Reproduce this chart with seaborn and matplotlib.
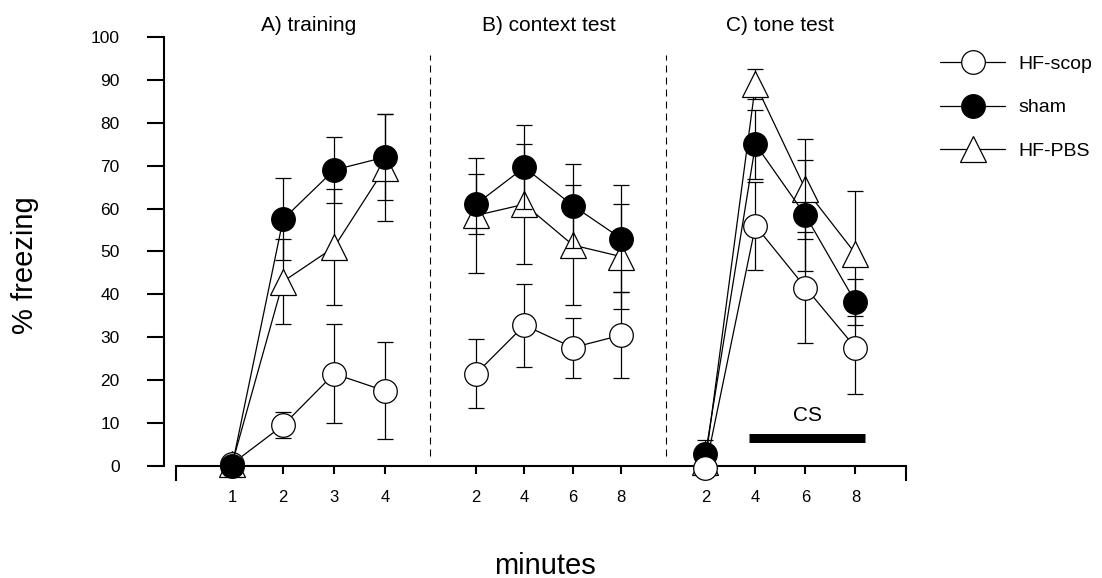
import pandas as pd
import seaborn as sns
import matplotlib
matplotlib.use("Agg")
import matplotlib.pyplot as plt
from matplotlib.lines import Line2D

# valores (% freezing)
groups = ["HF-scop", "sham", "HF-PBS"]

train_min = [1, 2, 3, 4]
train_scop = [0.5, 9.5, 21.5, 17.5]
train_scop_err = [0, 3, 11.5, 11.3]
train_sham = [0, 57.5, 69, 72]
train_sham_err = [0, 9.6, 7.8, 10]
train_pbs = [0.5, 43, 51, 69.5]
train_pbs_err = [0, 10, 13.5, 12.5]

ctx_min = [2, 4, 6, 8]
ctx_scop = [21.5, 32.8, 27.6, 30.5]
ctx_scop_err = [8, 9.7, 7, 10]
ctx_sham = [61, 69.6, 60.7, 53]
ctx_sham_err = [7, 9.8, 9.8, 12.5]
ctx_pbs = [58.4, 61, 51.5, 48.8]
ctx_pbs_err = [13.3, 14, 14, 12.2]

tone_min = [2, 4, 6, 8]
tone_scop = [-0.5, 56, 41.6, 27.6]
tone_scop_err = [0, 10.2, 13, 10.8]
tone_sham = [2.8, 75, 58.4, 38.2]
tone_sham_err = [3.2, 8, 13, 5.3]
tone_pbs = [1, 89, 64.5, 49.5]
tone_pbs_err = [0, 3.5, 11.7, 14.5]

cs_start, cs_end = 3.75, 8.4   # minutos del tono (CS)

# estilo de cada grupo
styles = {
    "HF-scop": dict(marker="o", markerfacecolor="white", markersize=17),
    "sham": dict(marker="o", markerfacecolor="black", markersize=17),
    "HF-PBS": dict(marker="^", markerfacecolor="white", markersize=19),
}

# cada panel: (titulo, minutos, series, offset, escala, orden de dibujo)
panels = [
    ("A) training", train_min,
     {"HF-scop": (train_scop, train_scop_err), "sham": (train_sham, train_sham_err),
      "HF-PBS": (train_pbs, train_pbs_err)}, 0.1, 1.0, ["HF-PBS", "HF-scop", "sham"]),
    ("B) context test", ctx_min,
     {"HF-scop": (ctx_scop, ctx_scop_err), "sham": (ctx_sham, ctx_sham_err),
      "HF-PBS": (ctx_pbs, ctx_pbs_err)}, 4.93, 0.475, ["HF-PBS", "HF-scop", "sham"]),
    ("C) tone test", tone_min,
     {"HF-scop": (tone_scop, tone_scop_err), "sham": (tone_sham, tone_sham_err),
      "HF-PBS": (tone_pbs, tone_pbs_err)}, 9.4, 0.49, ["HF-PBS", "sham", "HF-scop"]),
]
dividers = [4.98, 9.61]
x_end = 14.31

sns.set_style("ticks")
plt.rcParams["font.family"] = ["Liberation Sans", "DejaVu Sans"]
for k in ["text.color", "axes.labelcolor", "xtick.color", "ytick.color", "axes.edgecolor"]:
    plt.rcParams[k] = "black"

fig = plt.figure(figsize=(11.02, 5.78), dpi=100)
ax = fig.add_axes([0.1597, 0.1938, 0.6624, 0.7422])

tick_pos = []
tick_lab = []
for title, mins, series, off, scale, order in panels:
    pos = [off + scale * m for m in mins]
    tick_pos += pos
    tick_lab += [str(m) for m in mins]
    for z, g in enumerate(order):
        vals, errs = series[g]
        df = pd.DataFrame({"x": pos, "y": vals})
        # barras de error por debajo de los marcadores
        ax.errorbar(pos, vals, yerr=errs, fmt="none", ecolor="black",
                    elinewidth=0.9, capsize=5.5, capthick=0.9, zorder=3 + 2 * z,
                    clip_on=False)
        sns.lineplot(data=df, x="x", y="y", ax=ax, color="black", linewidth=0.9,
                     markeredgecolor="black", markeredgewidth=0.9,
                     zorder=4 + 2 * z, clip_on=False, **styles[g])
    ax.text(off + scale * (mins[0] + mins[-1]) / 2, 102.6, title, ha="center",
            va="center", fontsize=15, clip_on=False)

for d in dividers:
    ax.plot([d, d], [2.3, 95.8], color="black", linewidth=0.8, dashes=(6.3, 4.5))

# barra del CS
tone_off, tone_scale = panels[2][3], panels[2][4]
ax.plot([tone_off + tone_scale * cs_start, tone_off + tone_scale * cs_end], [6.5, 6.5],
        color="black", linewidth=6.5, solid_capstyle="butt")
ax.text(tone_off + tone_scale * (cs_start + cs_end) / 2, 11.8, "CS", ha="center",
        va="center", fontsize=15)

ax.set_xlim(0, x_end)
ax.set_ylim(0, 100)
ax.set_xticks(tick_pos)
ax.set_xticklabels(tick_lab)
ax.set_xticks([0, x_end], minor=True)
ax.set_yticks(range(0, 101, 10))
ax.tick_params(axis="x", which="major", direction="out", length=6, width=1.5,
               pad=11, labelsize=12)
ax.tick_params(axis="x", which="minor", direction="out", length=11, width=1.5)
ax.tick_params(axis="y", direction="out", length=12, width=1.5, pad=20, labelsize=12.5)
ax.spines["top"].set_visible(False)
ax.spines["right"].set_visible(False)
ax.spines["left"].set_position(("outward", 8.6))
ax.spines["left"].set_linewidth(1.5)
ax.spines["bottom"].set_linewidth(1.5)
ax.set_xlabel("")
ax.set_ylabel("")

fig.text(25 / 1102, 1 - 265 / 578, "% freezing", rotation=90, ha="center",
         va="center", fontsize=21)
fig.text(545 / 1102, 1 - 566 / 578, "minutes", ha="center", va="center", fontsize=21)

handles = [Line2D([], [], color="black", linewidth=0.9, markeredgecolor="black",
                  markeredgewidth=0.9, **styles[g]) for g in groups]
fig.legend(handles, groups, loc="upper left", bbox_to_anchor=(0.853, 0.905),
           frameon=False, fontsize=14, handlelength=3.35, handletextpad=0.67,
           labelspacing=1.35, borderpad=0, borderaxespad=0)

fig.savefig("out.png", dpi=100)
